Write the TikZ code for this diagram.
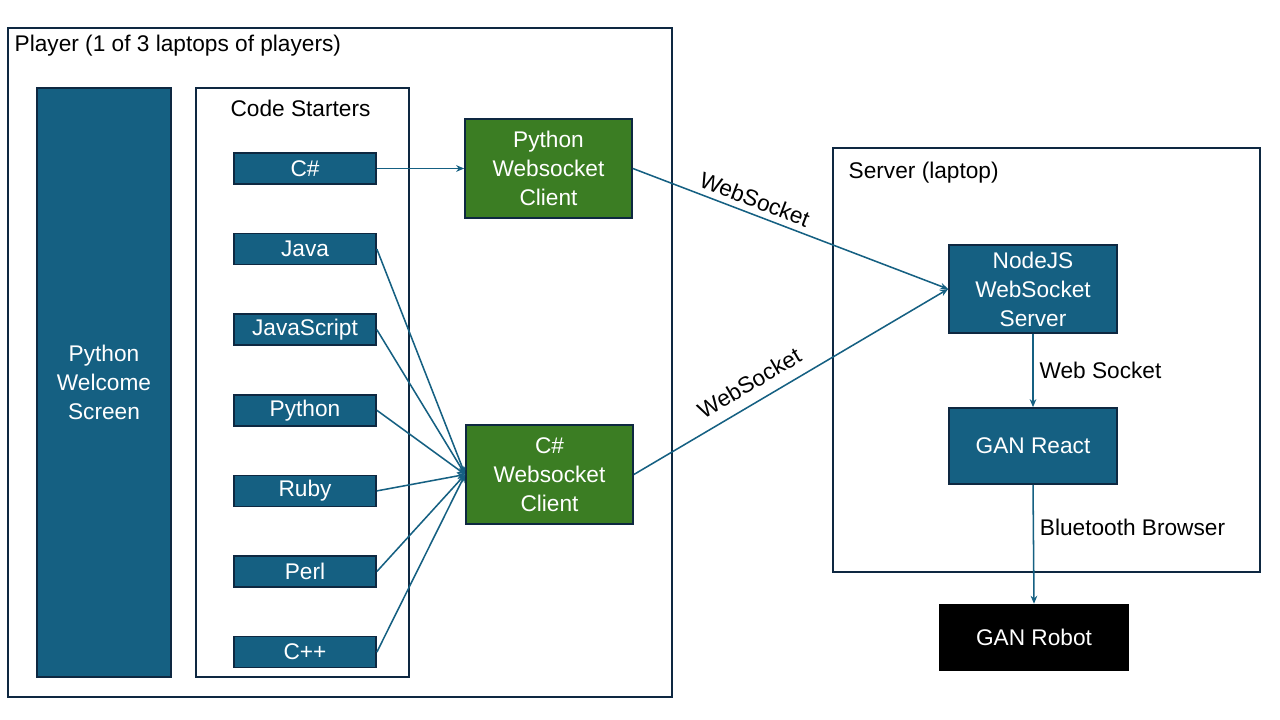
\documentclass[tikz,border=0pt]{standalone}
\usepackage{fontspec}
\setmainfont{Liberation Sans}
\usetikzlibrary{positioning,arrows.meta}
\definecolor{deepblue}{HTML}{156082}
\definecolor{navy}{HTML}{0E2841}
\definecolor{leaf}{HTML}{3B7D23}

\begin{document}
\begin{tikzpicture}[x=0.75pt,y=-0.75pt,
every node/.style={font=\fontsize{17}{21.75}\selectfont},
frame/.style={rectangle, draw=navy, line width=1.3pt, fill=white},
module/.style={rectangle, draw=navy, line width=1.3pt, fill=deepblue, text=white, align=center},
starter/.style={module, minimum width=106.5pt, minimum height=23.25pt, inner sep=0pt},
client/.style={rectangle, draw=navy, line width=1.3pt, fill=leaf, text=white, align=center, minimum width=125.25pt, minimum height=74.25pt},
link/.style={draw=deepblue, line width=1.15pt, -{Stealth[length=6pt,width=5pt]}}
]
\useasboundingbox (0,0) rectangle (1280,720);

% player laptop
\node[frame, minimum width=498pt, minimum height=501.75pt](player) at (340,362.5){};
\node[anchor=west](player_lbl) at (10,46){Player (1 of 3 laptops of players)};

\node[module, minimum width=100.5pt, minimum height=441.75pt](welcome) at (104,382.5){Python\\Welcome\\Screen};

\node[frame, minimum width=159.75pt, minimum height=441.75pt](starters) at (302.5,382.5){};
\node(starters_lbl) at (300.5,108){Code Starters};

\node[starter](cs) at (305,168.5){C\#};
\node[starter](java)[below=35.9pt of cs]{Java};
\node[starter](js)[below=35.9pt of java]{JavaScript};
\node[starter](py)[below=35.9pt of js]{Python};
\node[starter](ruby)[below=35.9pt of py]{Ruby};
\node[starter](perl)[below=35.9pt of ruby]{Perl};
\node[starter](cpp)[below=35.9pt of perl]{C++};

\node[client](py_client) at (548.5,168.5){Python\\Websocket\\Client};
\node[client](cs_client) at (549.5,474.5){C\#\\Websocket\\Client};

% server laptop
\node[frame, minimum width=320.25pt, minimum height=318pt](server) at (1046.5,360){};
\node[anchor=west](server_lbl) at (844,173){Server (laptop)};

\node[module, minimum width=126pt, minimum height=66pt](node_srv) at (1033,289){NodeJS\\WebSocket\\Server};
\node[module, minimum width=126pt, minimum height=57pt](gan_react) at (1033,446){GAN React};
\node[rectangle, fill=black, text=white, minimum width=142.5pt, minimum height=50.25pt](gan_robot) at (1034,637.5){GAN Robot};

\draw[link] (cs.east) -- (py_client.west);
\foreach \lang in {java,js,py,ruby,perl,cpp}
  \draw[link] (\lang.east) -- (cs_client.west);

\draw[link] (py_client.east) -- node[pos=0.37, sloped, above=1pt]{WebSocket} (node_srv.west);
\draw[link] (cs_client.east) -- node[pos=0.4, sloped, above=5pt]{WebSocket} (node_srv.west);

\draw[link] (node_srv.south) -- node[midway, right=1pt]{Web Socket} (gan_react.north);
\draw[link] (gan_react.south) -- node[pos=0.36, right=1pt]{Bluetooth Browser} (gan_robot.north);
\end{tikzpicture}
\end{document}
